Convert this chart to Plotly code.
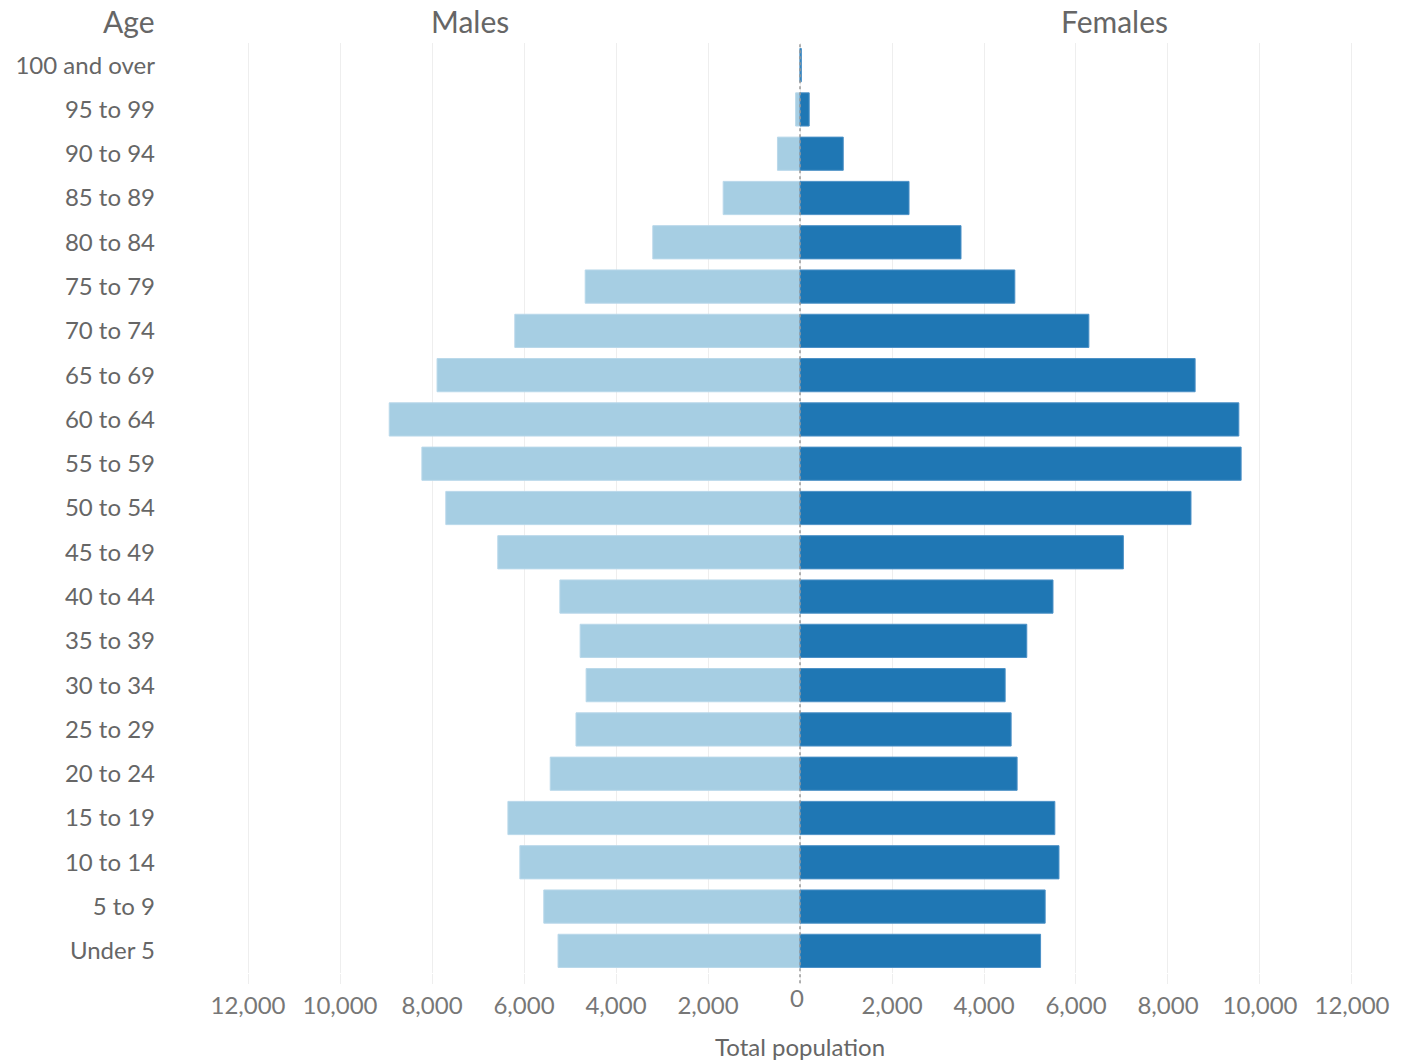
import plotly.graph_objects as go

age_groups = ["Under 5", "5 to 9", "10 to 14", "15 to 19", "20 to 24", "25 to 29",
              "30 to 34", "35 to 39", "40 to 44", "45 to 49", "50 to 54", "55 to 59",
              "60 to 64", "65 to 69", "70 to 74", "75 to 79", "80 to 84", "85 to 89",
              "90 to 94", "95 to 99", "100 and over"]
males = [5260, 5570, 6090, 6350, 5430, 4870, 4650, 4780, 5220, 6570, 7700, 8220,
         8930, 7890, 6200, 4670, 3200, 1670, 490, 95, 10]
females = [5230, 5330, 5630, 5540, 4720, 4590, 4460, 4930, 5500, 7030, 8500, 9590,
           9540, 8590, 6280, 4670, 3500, 2370, 940, 200, 30]
tick_values = [-12000, -10000, -8000, -6000, -4000, -2000, 0, 2000, 4000, 6000, 8000, 10000, 12000]
tick_labels = ["12,000", "10,000", "8,000", "6,000", "4,000", "2,000", "", "2,000", "4,000",
               "6,000", "8,000", "10,000", "12,000"]

FONT = "Lato"
GRAY = "#6b6b6b"

fig = go.Figure()
fig.add_trace(go.Bar(
    y=age_groups, x=[-v for v in males], orientation="h", name="Males",
    marker=dict(color="#a6cee3", line=dict(color="#b9d8ea", width=1)),
    customdata=males, hovertemplate="%{y}: %{customdata:,}<extra>Males</extra>",
))
fig.add_trace(go.Bar(
    y=age_groups, x=females, orientation="h", name="Females",
    marker=dict(color="#1f77b4", line=dict(color="#4b90c6", width=1)),
    hovertemplate="%{y}: %{x:,}<extra>Females</extra>",
))

fig.update_layout(
    width=1403, height=1061,
    margin=dict(l=170, r=0, t=43, b=88),
    barmode="relative", bargap=0.25,
    plot_bgcolor="white", paper_bgcolor="white",
    showlegend=False,
    font=dict(family=FONT, color=GRAY, size=24),
)
fig.update_xaxes(
    range=[-13696, 13109],
    tickvals=tick_values, ticktext=tick_labels,
    showgrid=True, gridcolor="#eeeeee", gridwidth=1,
    zeroline=False,
    ticks="outside", ticklen=10, tickcolor="#eeeeee",
    tickfont=dict(size=24, color="#777777"),
    ticklabelstandoff=1,
    showline=False,
)
fig.update_yaxes(
    categoryorder="array", categoryarray=age_groups,
    showgrid=False, zeroline=False, showline=False,
    ticks="", tickfont=dict(size=24, color="#666666"),
    ticklabelstandoff=14,
)

fig.add_shape(type="line", xref="x", yref="paper", x0=0, x1=0, y0=-0.011, y1=1,
              line=dict(color="#999999", width=1.5, dash="dot"), layer="above")

fig.add_annotation(x=0, xref="x", y=0, yref="paper", text="0", showarrow=False,
                   xanchor="center", yanchor="middle", xshift=-3,
                   yshift=-24, font=dict(size=24, color="#777777"))
fig.add_annotation(x=0, xref="x", y=0, yref="paper", text="Total population", showarrow=False,
                   xanchor="center", yanchor="middle",
                   yshift=-73, font=dict(size=24, color="#666666"))
fig.add_annotation(x=0.2433, xref="paper", y=1, yref="paper", text="Males", showarrow=False,
                   xanchor="center", yanchor="middle",
                   yshift=22, font=dict(size=30, color="#666666"))
fig.add_annotation(x=0.7664, xref="paper", y=1, yref="paper", text="Females", showarrow=False,
                   xanchor="center", yanchor="middle",
                   yshift=22, font=dict(size=30, color="#666666"))
fig.add_annotation(x=-0.0105, xref="paper", xanchor="right", y=1, yref="paper", text="Age",
                   yanchor="middle",
                   showarrow=False, yshift=22, font=dict(size=30, color="#666666"))

fig.write_html("out.html", config={"displayModeBar": False},
               post_script="document.body.style.margin='0';")
